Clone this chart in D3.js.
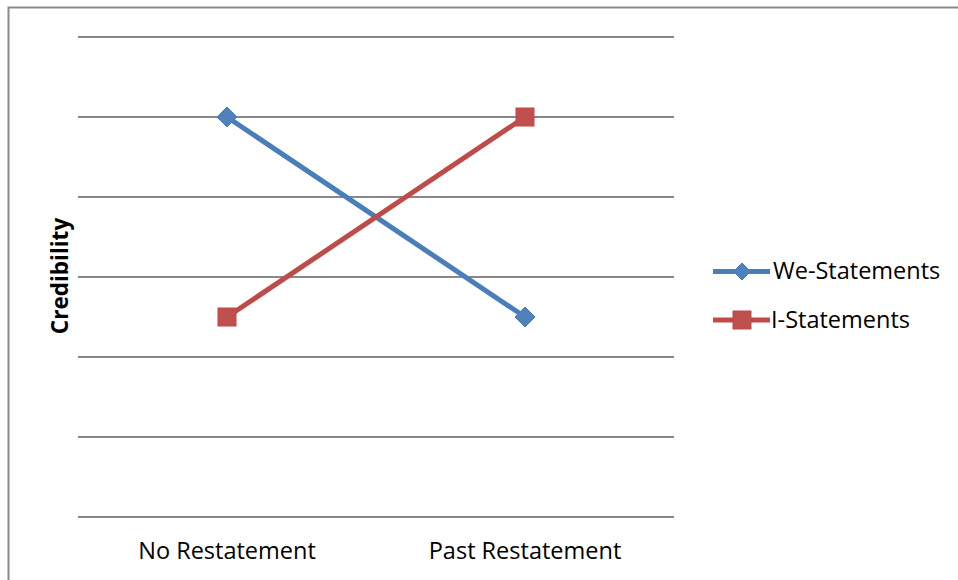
<!DOCTYPE html>
<html>
<head>
<meta charset="utf-8">
<script src="https://cdn.jsdelivr.net/npm/d3@7"></script>
<style>
  html, body { margin: 0; padding: 0; background: #fff; }
  svg { display: block; }
  text { font-family: "Open Sans", Lato, "Liberation Sans", sans-serif; fill: #000; }
</style>
</head>
<body>
<svg id="chart" width="958" height="580"></svg>
<script>
// Chart data
const categories = ["No Restatement", "Past Restatement"];
const weStatements = [5, 2.5];
const iStatements = [2.5, 5];
const yTicks = [0, 1, 2, 3, 4, 5, 6];
const seriesNames = ["We-Statements", "I-Statements"];

const svg = d3.select("#chart");

// Outer chart frame (only top and left edges fall inside the view)
svg.append("rect")
  .attr("x", 8.5).attr("y", 7.5)
  .attr("width", 1000).attr("height", 1000)
  .attr("fill", "none").attr("stroke", "#8a8a8a").attr("stroke-width", 2);

const plot = { left: 78, right: 674, top: 37, bottom: 517 };

const x = d3.scalePoint()
  .domain(categories)
  .range([plot.left, plot.right])
  .padding(0.5);

const y = d3.scaleLinear()
  .domain([0, 6])
  .range([plot.bottom, plot.top]);

// Horizontal gridlines
svg.append("g")
  .selectAll("line")
  .data(yTicks)
  .join("line")
  .attr("x1", plot.left).attr("x2", plot.right)
  .attr("y1", d => y(d)).attr("y2", d => y(d))
  .attr("stroke", "#888").attr("stroke-width", 2);

// Category labels
svg.append("g")
  .selectAll("text")
  .data(categories)
  .join("text")
  .attr("x", d => x(d))
  .attr("y", 559)
  .attr("text-anchor", "middle")
  .attr("font-size", 23.5)
  .text(d => d);

// Y axis title
svg.append("text")
  .attr("transform", "translate(68,276) rotate(-90)")
  .attr("text-anchor", "middle")
  .attr("font-size", 22.5)
  .attr("font-weight", "bold")
  .text("Credibility");

const line = d3.line()
  .x((d, i) => x(categories[i]))
  .y(d => y(d));

const blue = "#4A7EBB", blueFill = "#4F81BD";
const red = "#BE4B48", redFill = "#C0504D";

function diamond(g, cx, cy, r) {
  g.append("path")
    .attr("d", `M${cx},${cy - r}L${cx + r},${cy}L${cx},${cy + r}L${cx - r},${cy}Z`)
    .attr("fill", blueFill).attr("stroke", blue).attr("stroke-width", 1);
}
function square(g, cx, cy, h) {
  g.append("rect")
    .attr("x", cx - h).attr("y", cy - h)
    .attr("width", 2 * h).attr("height", 2 * h)
    .attr("fill", redFill).attr("stroke", red).attr("stroke-width", 1);
}

// We-Statements
const gWe = svg.append("g");
gWe.append("path").datum(weStatements)
  .attr("d", line).attr("fill", "none")
  .attr("stroke", blue).attr("stroke-width", 5).attr("stroke-linejoin", "round");
weStatements.forEach((v, i) => diamond(gWe, x(categories[i]), y(v), 10));

// I-Statements
const gI = svg.append("g");
gI.append("path").datum(iStatements)
  .attr("d", line).attr("fill", "none")
  .attr("stroke", red).attr("stroke-width", 5).attr("stroke-linejoin", "round");
iStatements.forEach((v, i) => square(gI, x(categories[i]), y(v), 9));

// Legend
const legend = svg.append("g");
const legendY = [271.5, 320];
const legendTextX = [773, 771];
[blue, red].forEach((col, i) => {
  const ly = legendY[i];
  legend.append("line")
    .attr("x1", 713).attr("x2", 770).attr("y1", ly).attr("y2", ly)
    .attr("stroke", col).attr("stroke-width", 5);
  if (i === 0) diamond(legend, 742, ly, 8.5);
  else square(legend, 742, ly, 9);
  legend.append("text")
    .attr("x", legendTextX[i]).attr("y", ly + 7.5)
    .attr("font-size", 23.5)
    .text(seriesNames[i]);
});
</script>
</body>
</html>
